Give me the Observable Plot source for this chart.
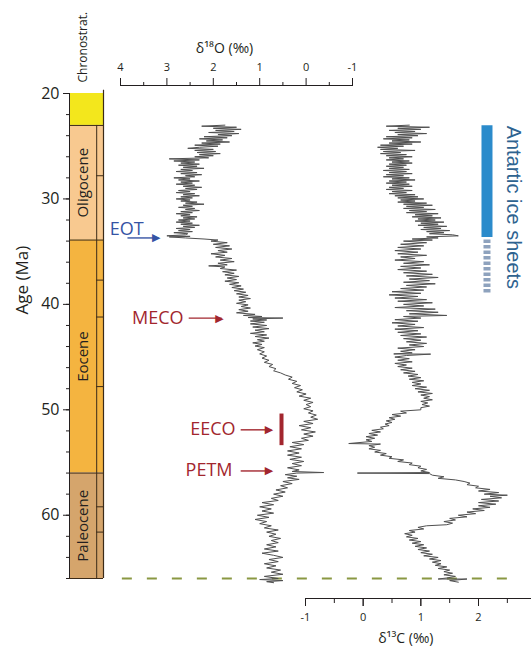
<!DOCTYPE html>
<html><head><meta charset="utf-8">
<script src="https://cdn.jsdelivr.net/npm/d3@7"></script>
<script src="https://cdn.jsdelivr.net/npm/@observablehq/plot@0.6"></script>
<style>
html,body{margin:0;padding:0;background:#fff;overflow:hidden;}
#wrap{position:relative;width:531px;height:650px;overflow:hidden;background:#fff;}
#wrap svg{position:absolute;left:0;top:0;background:transparent !important;max-width:none !important;overflow:visible;}
</style></head><body><div id="wrap"></div>
<script>
// ---------- data ----------
const epochNames = ["Miocene", "Oligocene", "Eocene", "Paleocene"];
const epochTop   = [20, 23.03, 33.9, 56.0];
const epochBase  = [23.03, 33.9, 56.0, 66.0];
const stageBoundaries = [27.8, 37.7, 41.2, 47.8, 59.2, 61.6];
const yTicks = [20, 30, 40, 50, 60];
const o18Ticks = [4, 3, 2, 1, 0, -1];
const c13Ticks = [-1, 0, 1, 2, 3];
const c13Labels = [-1, 0, 1, 2];

// [age (Ma), d18O (permil)]
const d18O = [
[23.0,1.75],[23.1,2.25],[23.2,1.5],[23.3,2.0],[23.4,1.4],[23.5,1.95],[23.6,1.55],[23.7,2.1],[23.8,1.45],[23.9,1.9],
[24.0,1.6],[24.1,2.2],[24.2,1.7],[24.3,2.3],[24.4,1.8],[24.5,2.15],[24.6,1.65],[24.7,2.25],[24.8,1.85],[24.9,2.4],
[25.0,1.9],[25.1,2.3],[25.2,2.55],[25.3,2.0],[25.4,2.4],[25.5,1.95],[25.6,2.35],[25.7,1.85],[25.8,2.3],[25.9,2.0],
[26.0,2.4],[26.1,2.1],[26.2,2.95],[26.3,2.3],[26.4,2.85],[26.5,2.4],[26.6,2.7],[26.7,2.3],[26.8,2.75],[26.9,2.35],
[27.0,2.65],[27.1,2.2],[27.2,2.7],[27.3,2.45],[27.4,2.8],[27.5,2.35],[27.6,2.7],[27.7,2.25],[27.8,2.6],[27.9,2.4],
[28.0,2.85],[28.1,2.5],[28.2,2.75],[28.3,2.3],[28.4,2.7],[28.5,2.45],[28.6,2.8],[28.7,2.4],[28.8,2.65],[28.9,2.25],
[29.0,2.6],[29.1,2.35],[29.2,2.75],[29.3,2.5],[29.4,2.8],[29.5,2.4],[29.6,2.65],[29.7,2.3],[29.8,2.7],[29.9,2.45],
[30.0,2.8],[30.1,2.5],[30.2,2.7],[30.3,2.35],[30.4,2.6],[30.5,2.2],[30.6,2.65],[30.7,2.45],[30.8,2.75],[30.9,2.4],
[31.0,2.6],[31.1,2.3],[31.2,2.7],[31.3,2.45],[31.4,2.8],[31.5,2.5],[31.6,2.7],[31.7,2.35],[31.8,2.65],[31.9,2.4],
[32.0,2.75],[32.1,2.5],[32.2,2.8],[32.3,2.45],[32.4,2.7],[32.5,2.3],[32.6,2.65],[32.7,2.4],[32.8,2.8],[32.9,2.5],
[33.0,2.75],[33.1,2.45],[33.2,2.85],[33.3,2.55],[33.4,2.6],[33.5,3.0],[33.55,2.5],[33.6,2.95],[33.7,2.6],[33.8,2.2],
[33.9,1.9],[34.0,2.05],[34.15,1.7],[34.3,2.0],[34.45,1.65],[34.6,1.95],[34.75,1.6],[34.9,1.9],[35.05,1.7],[35.2,2.05],
[35.35,1.75],[35.5,1.95],[35.65,1.6],[35.8,1.85],[35.95,1.55],[36.1,1.9],[36.25,1.7],[36.35,2.1],[36.45,1.75],[36.6,1.85],
[36.75,1.5],[36.9,1.8],[37.05,1.55],[37.2,1.75],[37.35,1.45],[37.5,1.7],[37.65,1.5],[37.8,1.75],[37.95,1.45],[38.1,1.65],
[38.25,1.4],[38.4,1.6],[38.55,1.35],[38.7,1.55],[38.85,1.3],[39.0,1.5],[39.15,1.25],[39.3,1.45],[39.45,1.2],[39.6,1.45],
[39.75,1.3],[39.9,1.5],[40.05,1.25],[40.2,1.4],[40.35,1.2],[40.5,1.45],[40.65,1.25],[40.8,1.5],[40.95,1.1],[41.05,1.35],
[41.15,0.95],[41.25,1.25],[41.3,0.5],[41.38,1.15],[41.48,0.85],[41.58,1.2],[41.7,0.9],[41.85,1.2],[42.0,0.85],[42.15,1.15],
[42.3,0.8],[42.45,1.1],[42.6,0.9],[42.75,1.2],[42.9,0.85],[43.05,1.1],[43.2,0.8],[43.35,1.05],[43.5,0.9],[43.65,1.15],
[43.8,0.95],[43.95,1.1],[44.1,0.9],[44.3,1.05],[44.5,0.9],[44.7,1.0],[44.9,0.85],[45.1,0.95],[45.3,0.8],[45.5,0.9],
[45.7,0.72],[45.9,0.8],[46.1,0.65],[46.3,0.7],[46.5,0.55],[46.7,0.45],[46.9,0.3],[47.1,0.38],[47.3,0.2],[47.5,0.3],
[47.7,0.12],[47.9,0.25],[48.1,0.08],[48.3,0.2],[48.5,0.0],[48.7,0.15],[48.9,-0.1],[49.1,0.05],[49.3,-0.15],[49.5,0.0],
[49.7,-0.1],[49.9,0.05],[50.1,-0.15],[50.3,-0.05],[50.5,-0.22],[50.7,-0.1],[50.9,-0.25],[51.1,0.05],[51.3,-0.15],[51.5,0.15],
[51.7,-0.1],[51.9,0.1],[52.1,-0.2],[52.3,0.05],[52.5,-0.15],[52.7,0.1],[52.9,-0.05],[53.1,0.3],[53.3,0.05],[53.5,0.35],
[53.7,0.1],[53.9,0.4],[54.1,0.15],[54.3,0.4],[54.5,0.1],[54.7,0.35],[54.9,0.05],[55.1,0.3],[55.3,0.1],[55.5,0.4],
[55.7,0.15],[55.85,0.3],[55.95,-0.38],[56.0,0.2],[56.15,0.45],[56.3,0.2],[56.45,0.4],[56.6,0.15],[56.8,0.5],[57.0,0.3],
[57.2,0.55],[57.4,0.4],[57.6,0.65],[57.8,0.45],[58.0,0.7],[58.2,0.5],[58.4,0.75],[58.6,0.6],[58.8,0.95],[59.0,0.7],
[59.2,1.0],[59.4,0.75],[59.6,0.95],[59.8,0.7],[60.0,1.05],[60.2,0.8],[60.4,1.1],[60.6,0.85],[60.8,1.0],[61.0,0.75],
[61.2,0.9],[61.4,0.6],[61.6,0.85],[61.8,0.65],[62.0,0.8],[62.2,0.55],[62.4,0.75],[62.6,0.6],[62.8,0.85],[63.0,0.65],
[63.2,0.9],[63.4,0.6],[63.6,0.95],[63.8,0.7],[64.0,0.5],[64.2,0.8],[64.4,0.6],[64.6,0.9],[64.8,0.65],[65.0,0.85],
[65.2,0.55],[65.4,0.75],[65.6,0.5],[65.8,0.9],[66.0,0.6],[66.1,1.0],[66.2,0.5],[66.3,0.85],[66.4,0.7]
];

// [age (Ma), d13C (permil)]
const d13C = [
[23.0,0.8],[23.1,0.4],[23.2,1.15],[23.3,0.6],[23.4,1.0],[23.5,0.45],[23.6,0.9],[23.7,0.55],[23.8,1.1],[23.9,0.6],
[24.0,0.95],[24.1,0.4],[24.2,0.85],[24.3,0.35],[24.4,0.8],[24.5,0.5],[24.6,1.0],[24.7,0.45],[24.8,0.85],[24.9,0.3],
[25.0,0.7],[25.1,0.25],[25.2,0.6],[25.3,0.3],[25.4,0.9],[25.5,0.35],[25.6,0.65],[25.7,0.3],[25.8,0.75],[25.9,0.4],
[26.0,0.85],[26.1,0.45],[26.2,0.7],[26.3,0.4],[26.4,0.8],[26.5,0.5],[26.6,0.85],[26.7,0.45],[26.8,0.75],[26.9,0.4],
[27.0,0.7],[27.1,0.45],[27.2,0.8],[27.3,0.35],[27.4,0.75],[27.5,0.45],[27.6,0.85],[27.7,0.4],[27.8,0.7],[27.9,0.35],
[28.0,0.8],[28.1,0.5],[28.2,0.9],[28.3,0.45],[28.4,0.75],[28.5,0.4],[28.6,0.8],[28.7,0.5],[28.8,0.85],[28.9,0.45],
[29.0,0.7],[29.1,0.4],[29.2,0.85],[29.3,0.5],[29.4,0.75],[29.5,0.45],[29.6,0.9],[29.7,0.55],[29.8,0.95],[29.9,0.6],
[30.0,1.05],[30.1,0.65],[30.2,0.9],[30.3,0.6],[30.4,1.1],[30.5,0.7],[30.6,1.2],[30.7,0.75],[30.8,1.05],[30.9,0.7],
[31.0,1.25],[31.1,0.8],[31.2,1.1],[31.3,0.75],[31.4,1.3],[31.5,0.9],[31.6,1.2],[31.7,0.85],[31.8,1.35],[31.9,0.95],
[32.0,1.25],[32.1,0.9],[32.2,1.4],[32.3,1.0],[32.4,1.3],[32.5,0.95],[32.6,1.45],[32.7,1.05],[32.8,1.35],[32.9,1.0],
[33.0,1.5],[33.1,1.1],[33.2,1.4],[33.3,1.15],[33.4,1.55],[33.5,1.65],[33.6,1.1],[33.7,1.3],[33.8,0.85],[33.9,1.2],
[34.0,0.7],[34.15,1.1],[34.3,0.65],[34.45,1.05],[34.6,0.6],[34.75,1.0],[34.9,0.55],[35.05,0.95],[35.2,0.6],[35.35,1.1],
[35.5,0.65],[35.65,0.9],[35.8,0.55],[35.95,1.05],[36.1,0.7],[36.25,1.15],[36.4,0.65],[36.55,1.0],[36.7,0.6],[36.85,1.1],
[37.0,0.7],[37.15,1.2],[37.3,0.75],[37.45,1.3],[37.6,0.8],[37.75,1.15],[37.9,0.7],[38.05,1.25],[38.2,0.75],[38.35,1.1],
[38.5,0.65],[38.65,1.05],[38.8,0.5],[38.95,1.0],[39.1,0.45],[39.25,0.95],[39.4,0.55],[39.55,1.1],[39.7,0.6],[39.85,1.2],
[40.0,0.7],[40.15,1.05],[40.3,0.55],[40.45,1.25],[40.6,0.75],[40.75,1.3],[40.9,0.8],[41.05,1.45],[41.15,0.7],[41.3,1.0],
[41.45,0.55],[41.6,0.95],[41.75,0.5],[41.9,0.9],[42.05,0.6],[42.2,1.05],[42.35,0.55],[42.5,0.95],[42.65,0.6],[42.8,1.0],
[42.95,0.65],[43.1,1.1],[43.25,0.7],[43.4,1.0],[43.55,0.75],[43.7,1.1],[43.85,0.8],[44.0,1.05],[44.15,0.6],[44.3,0.9],
[44.45,0.65],[44.6,0.85],[44.7,0.53],[44.72,1.17],[44.85,0.75],[45.0,0.55],[45.15,0.8],[45.3,0.6],[45.45,0.85],[45.6,0.55],
[45.75,0.75],[45.9,0.6],[46.05,0.85],[46.2,0.65],[46.35,0.9],[46.5,0.7],[46.65,0.95],[46.8,0.78],[46.95,1.0],[47.1,0.8],
[47.25,1.05],[47.4,0.85],[47.55,1.0],[47.7,0.85],[47.85,1.1],[48.0,0.9],[48.15,1.15],[48.3,0.95],[48.45,1.2],[48.6,1.0],
[48.75,1.15],[48.9,1.05],[49.05,1.2],[49.2,1.0],[49.35,1.12],[49.5,1.02],[49.65,1.15],[49.8,1.0],[50.0,1.0],[50.13,0.65],
[50.3,0.75],[50.45,0.5],[50.6,0.65],[50.75,0.45],[50.9,0.55],[51.05,0.4],[51.2,0.5],[51.35,0.38],[51.5,0.45],[51.65,0.3],
[51.8,0.35],[51.95,0.15],[52.1,0.3],[52.25,0.1],[52.4,0.25],[52.55,0.05],[52.7,0.2],[52.85,0.05],[53.0,0.15],[53.2,-0.25],
[53.25,0.3],[53.4,0.1],[53.55,0.2],[53.7,0.1],[53.85,0.3],[54.0,0.2],[54.15,0.4],[54.3,0.3],[54.45,0.5],[54.6,0.45],
[54.75,0.7],[54.9,0.6],[55.05,0.85],[55.2,0.8],[55.35,1.0],[55.5,0.95],[55.65,1.1],[55.8,1.0],[55.95,1.15],[56.0,-0.1],
[56.05,1.15],[56.2,1.2],[56.35,1.4],[56.5,1.3],[56.65,1.6],[56.8,1.75],[56.95,1.85],[57.1,1.8],[57.25,2.0],[57.4,1.95],
[57.55,2.2],[57.7,2.0],[57.85,2.35],[58.0,2.1],[58.1,2.5],[58.2,2.2],[58.35,2.4],[58.5,2.05],[58.65,2.35],[58.8,2.0],
[58.95,2.3],[59.1,2.0],[59.25,2.2],[59.4,1.9],[59.55,2.1],[59.7,1.8],[59.85,1.95],[60.0,1.65],[60.15,1.8],[60.3,1.5],
[60.45,1.6],[60.6,1.4],[60.75,1.55],[60.9,1.45],[61.0,1.1],[61.15,0.95],[61.3,1.05],[61.45,0.8],[61.6,0.9],[61.75,0.72],
[61.9,0.85],[62.05,0.75],[62.2,0.95],[62.35,0.8],[62.5,1.0],[62.65,0.85],[62.8,1.05],[62.95,0.9],[63.1,1.1],[63.25,0.95],
[63.4,1.15],[63.55,1.0],[63.7,1.2],[63.85,1.05],[64.0,1.3],[64.15,1.15],[64.3,1.35],[64.45,1.2],[64.6,1.35],[64.75,1.25],
[64.9,1.45],[65.05,1.3],[65.2,1.5],[65.35,1.4],[65.5,1.55],[65.65,1.4],[65.8,1.6],[65.95,1.45],[66.05,1.3],[66.05,1.8],
[66.2,1.5],[66.35,1.65]
];

// event annotations (ages in Ma)
const eventNames = ["EOT", "MECO", "EECO", "PETM"];
const eventAges  = [33.7, 41.3, 51.9, 55.8];
const eeco = {top: 50.4, base: 53.4};
const iceSheets = {full: [23.05, 33.65], partial: [33.9, 39.0]};

// ---------- layout / styles ----------
const W = 531, H = 650;
const Y20 = 93, Y66 = 578, K = (Y66 - Y20) / 46; // px per Ma
const yScale = (mt, mb) => ({domain: [20 - (Y20 - mt) / K, 66 + (H - mb - Y66) / K], range: [mt, H - mb]});
const FONT = "'Open Sans', 'DejaVu Sans', sans-serif";
const INK = "#231f20";
const CURVE = "#4f4f4f";
const RED = "#a2262e";
const BLUE = "#3553a4";
const epochFill = {Miocene: "#f3e71c", Oligocene: "#f8c990", Eocene: "#f4b440", Paleocene: "#d5a56c"};
const baseStyle = {fontFamily: FONT, background: "transparent", overflow: "visible", color: INK};

const epochs = epochNames.map((name, i) => ({name, top: epochTop[i], base: epochBase[i]}));
const events = eventNames.map((name, i) => ({name, age: eventAges[i]}));
// annotation layout (in d18O units)
const noteLayout = {
  EOT:  {textEnd: 3.50, textAge: 32.85, from: 3.85, to: 3.18, color: BLUE},
  MECO: {textEnd: 2.64, textAge: 41.3, from: 2.53, to: 1.82, color: RED},
  EECO: {textEnd: 1.52, textAge: 51.85, from: 1.41, to: 0.75, color: RED},
  PETM: {textEnd: 1.585, textAge: 55.75, from: 1.41, to: 0.75, color: RED}
};
const notes = events.map(e => ({...e, ...noteLayout[e.name]}));

const wrap = document.getElementById("wrap");

// ---------- Plot A: chronostratigraphy column + age axis ----------
const mA = {t: 93, b: H - 578, l: 69, r: W - 103};
const plotA = Plot.plot({
  width: W, height: H,
  marginTop: mA.t, marginBottom: mA.b, marginLeft: mA.l, marginRight: mA.r,
  style: baseStyle,
  x: {domain: [0, 1], axis: null},
  y: {...yScale(mA.t, mA.b), axis: null},
  marks: [
    Plot.rect(epochs, {x1: 0, x2: 1, y1: "top", y2: "base", fill: d => epochFill[d.name]}),
    Plot.ruleX([0.8], {y1: epochs[1].top, y2: 66, stroke: "#3b2a18", strokeWidth: 1}),
    Plot.ruleY(stageBoundaries, {x1: 0.8, x2: 1, stroke: "#3b2a18", strokeWidth: 1}),
    Plot.ruleY(epochBase, {x1: 0, x2: 1, stroke: "#3b2a18", strokeWidth: 1}),
    Plot.ruleX([1], {y1: 19.7, y2: 66, stroke: "#3b2a18", strokeWidth: 1.2}),
    Plot.ruleX([0], {y1: 20, y2: 66, stroke: INK, strokeWidth: 1}),
    Plot.text(epochs.slice(1), {x: 0.4, y: d => (d.top + d.base) / 2, text: "name", rotate: -90, fontSize: 15, fill: INK}),
    Plot.axisY(d3.range(20, 67, 2), {anchor: "left", tickSize: 3, text: null, stroke: INK}),
    Plot.axisY(yTicks, {anchor: "left", tickSize: 6, tickPadding: 4, fontSize: 16, fill: INK, stroke: INK, tickFormat: d => String(d), label: null}),
    Plot.text(["Age (Ma)"], {x: 0, y: 37.7, dx: -47, rotate: -90, fontSize: 17, fill: INK}),
    Plot.text(["Chronostrat."], {x: 0.4, y: 20, dy: -11, rotate: -90, textAnchor: "start", fontSize: 12, fill: INK})
  ]
});

// ---------- Plot B: d18O ----------
const mB = {t: 85, b: H - 578, l: 120, r: W - 352};
const plotB = Plot.plot({
  width: W, height: H,
  marginTop: mB.t, marginBottom: mB.b, marginLeft: mB.l, marginRight: mB.r,
  style: baseStyle,
  x: {domain: [4, -1], axis: null},
  y: {...yScale(mB.t, mB.b), axis: null},
  marks: [
    Plot.ruleY([66], {x1: 3.96, x2: -4.5, stroke: "#8a9842", strokeWidth: 2, strokeDasharray: "10,15"}),
    Plot.frame({anchor: "top", stroke: INK, strokeWidth: 1}),
    Plot.axisX(d3.range(-0.5, 4, 1), {anchor: "top", tickSize: 4, text: null, stroke: INK}),
    Plot.axisX(o18Ticks, {anchor: "top", tickSize: 8, tickPadding: 7, fontSize: 11, fill: INK, stroke: INK, tickFormat: d => String(d), label: null}),
    Plot.text(["δ¹⁸O (‰)"], {frameAnchor: "top", dx: -12, dy: -42, fontSize: 14, fill: INK}),
    Plot.line(d18O, {x: d => d[1], y: d => d[0], stroke: CURVE, strokeWidth: 1}),
    Plot.text(notes, {x: "textEnd", y: "textAge", text: "name", textAnchor: "end", fill: "color", fontSize: 18}),
    Plot.link(notes, {x1: "from", x2: "to", y1: "age", y2: "age", stroke: "color", strokeWidth: 1.4}),
    Plot.text(notes, {x: "to", y: "age", text: () => "▶", textAnchor: "end", dx: 2, fill: "color", fontSize: 11, fontFamily: "'DejaVu Sans', sans-serif"}),
    Plot.ruleX([0.53], {y1: eeco.top, y2: eeco.base, stroke: RED, strokeWidth: 4})
  ]
});

// ---------- Plot C: d13C ----------
const WC = 540;
const mC = {t: 93, b: H - 598, l: 305, r: WC - (305 + 4 * 57.67)};
const plotC = Plot.plot({
  width: WC, height: H,
  marginTop: mC.t, marginBottom: mC.b, marginLeft: mC.l, marginRight: mC.r,
  style: baseStyle,
  x: {domain: [-1, 3], axis: null},
  y: {...yScale(mC.t, mC.b), axis: null},
  marks: [
    Plot.frame({anchor: "bottom", stroke: INK, strokeWidth: 1}),
    Plot.axisX(d3.range(-0.5, 3, 1), {anchor: "bottom", tickSize: 5, text: null, stroke: INK}),
    Plot.axisX(c13Ticks, {anchor: "bottom", tickSize: 8, text: null, stroke: INK}),
    Plot.axisX(c13Labels, {anchor: "bottom", tickSize: 8, tickPadding: 7, fontSize: 11, fill: INK, stroke: INK, tickFormat: d => String(d), label: null}),
    Plot.text(["δ¹³C (‰)"], {frameAnchor: "bottom", dx: -15, dy: 44, fontSize: 14, fill: INK}),
    Plot.line(d13C, {x: d => d[1], y: d => d[0], stroke: CURVE, strokeWidth: 1}),
    Plot.ruleX([2.147], {y1: iceSheets.full[0], y2: iceSheets.full[1], stroke: "#2b8bcb", strokeWidth: 11}),
    Plot.ruleX([2.147], {y1: iceSheets.partial[0], y2: iceSheets.partial[1], stroke: "#8ea2bd", strokeWidth: 7, strokeDasharray: "3.5,2"}),
    Plot.text(["Antartic ice sheets"], {x: 2.6, y: iceSheets.full[0], rotate: 90, textAnchor: "start", fontSize: 20, fill: "#2e6390", fontFamily: "'Liberation Sans', Arial, sans-serif"})
  ]
});

wrap.appendChild(plotA);
wrap.appendChild(plotB);
wrap.appendChild(plotC);
</script>
</body></html>
